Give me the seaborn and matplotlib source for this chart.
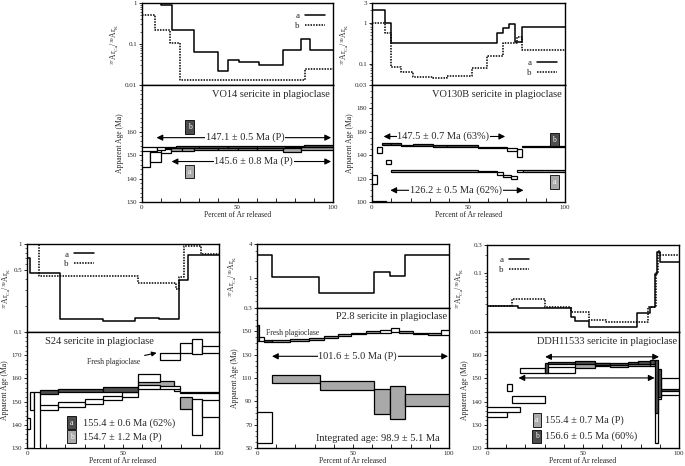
import numpy as np
import pandas as pd
import matplotlib
matplotlib.use("Agg")
import matplotlib.pyplot as plt
import seaborn as sns
from matplotlib.ticker import FixedLocator, FixedFormatter, NullFormatter, MultipleLocator, LogLocator

sns.set_theme(style="ticks")
plt.rcParams["font.family"] = ["Liberation Serif", "DejaVu Serif"]
plt.rcParams["mathtext.fontset"] = "custom"
plt.rcParams["mathtext.rm"] = "Liberation Serif"
plt.rcParams["mathtext.it"] = "Liberation Serif:italic"
plt.rcParams["mathtext.bf"] = "Liberation Serif:bold"

# ---------------- data ----------------
# VO14
vo14_ra_edges = [0, 10, 15.5, 27, 40, 45, 51, 61, 74, 83, 88, 100]
vo14_ra_vals = [0.98, 0.89, 0.22, 0.065, 0.022, 0.041, 0.036, 0.03, 0.07, 0.13, 0.07]
vo14_rb_edges = [0, 7, 14.6, 20, 85.6, 100]
vo14_rb_vals = [0.51, 0.22, 0.108, 0.0133, 0.024]
vo14_sa_edges = [0, 4, 10, 15, 21, 27, 40, 50, 60, 74, 83, 100]
vo14_sa_lo = [145.1, 147.3, 151.0, 152.0, 151.6, 152.3, 152.4, 152.4, 152.4, 151.4, 152.4]
vo14_sa_hi = [152.9, 151.5, 152.6, 153.0, 153.0, 153.1, 153.2, 153.1, 153.2, 153.2, 153.3]
vo14_sa_fill = ["w", "w", "w", "g", "g", "g", "g", "g", "g", "g", "g"]
vo14_sb_edges = [0, 8, 12, 18, 30, 45, 60, 75, 85, 100]
vo14_sb_lo = [152.0, 152.3, 152.9, 153.0, 153.1, 153.0, 153.1, 153.3, 153.4]
vo14_sb_hi = [153.4, 153.5, 153.7, 153.8, 153.9, 153.8, 153.9, 154.0, 154.2]
vo14_sb_fill = ["w", "w", "d", "d", "d", "d", "d", "d", "d"]

# VO130B
vo130_ra_edges = [0, 6.9, 9.8, 64.6, 68, 71, 74, 77.5, 100]
vo130_ra_vals = [2.03, 1.0, 0.31, 0.55, 0.74, 0.9, 0.34, 0.79]
vo130_rb_edges = [0, 6.9, 9.8, 15, 21, 31.7, 38.8, 51.7, 59.5, 68, 75, 77.6, 100]
vo130_rb_vals = [1.0, 0.57, 0.084, 0.061, 0.048, 0.044, 0.050, 0.077, 0.15, 0.31, 0.45, 0.21]
vo130_sb_edges = [0, 2.6, 5.2, 9.8, 15, 21, 31.7, 38.8, 55, 70, 75, 77.5, 100]
vo130_sb_lo = [115.4, 142.3, 148.5, 148.3, 147.7, 148.0, 147.4, 147.2, 146.3, 143.5, 138.5, 146.6]
vo130_sb_hi = [123.5, 146.7, 150.8, 150.3, 149.0, 149.6, 148.8, 148.3, 147.3, 146.5, 145.0, 147.6]
vo130_sb_fill = ["w", "w", "d", "d", "d", "d", "d", "d", "d", "w", "w", "d"]
vo130_sa_edges = [0, 7, 9.8, 55, 65, 68, 72, 75, 78, 100]
vo130_sa_lo = [90.0, 132.8, 126.0, 125.3, 123.5, 121.3, 119.5, 125.5, 126.0]
vo130_sa_hi = [100.6, 135.9, 127.0, 126.3, 126.0, 123.5, 122.5, 127.5, 127.0]
vo130_sa_fill = ["w", "w", "g", "g", "w", "w", "w", "w", "g"]

# S24
s24_ra_edges = [0, 1.5, 17.3, 39.6, 56, 69, 79.3, 84, 100]
s24_ra_vals = [0.69, 0.47, 0.14, 0.133, 0.146, 0.14, 0.39, 0.75]
s24_rb_edges = [0, 6, 57.6, 77.5, 79.3, 82, 90.5, 100]
s24_rb_vals = [1.5, 0.43, 0.36, 0.31, 0.42, 0.96, 0.76]
s24_sa_edges = [0, 1.5, 3.4, 6.9, 16.4, 39.8, 58, 69.2, 79.6, 100]
s24_sa_lo = [138.0, 146.5, 125.0, 153.3, 154.0, 154.0, 155.4, 155.4, 153.7]
s24_sa_hi = [143.0, 154.0, 154.0, 155.0, 155.4, 156.4, 157.0, 156.6, 154.3]
s24_sa_fill = ["w", "w", "w", "d", "d", "d", "w", "w", "d"]
s24_sb_edges = [3.4, 16.4, 30.3, 39.8, 49.3, 58, 76.5, 79.6, 85.7, 90.9, 100]
s24_sb_lo = [146.2, 147.7, 149.1, 150.5, 151.9, 156.1, 154.5, 147.0, 135.6, 143.4]
s24_sb_hi = [148.4, 149.8, 151.2, 152.6, 154.0, 159.0, 156.0, 151.9, 151.2, 150.5]
s24_sb_fill = ["w", "w", "w", "w", "w", "g", "w", "g", "w", "w"]
s24_fr_edges = [58, 69.2, 79.6, 85.7, 90.9, 100]
s24_fr_lo = [158.3, 168.0, 171.0, 170.5, 171.0]
s24_fr_hi = [161.8, 171.0, 175.2, 177.0, 174.0]
s24_fr_fill = ["w", "w", "w", "w", "w"]

# P2.8
p28_r_edges = [0, 7.8, 32.5, 61, 69.5, 77.3, 100]
p28_r_vals = [2.58, 1.06, 0.54, 1.31, 1.1, 2.58]
p28_su_edges = [0, 1, 3.5, 8, 17, 27, 35, 42, 49, 57, 64, 70, 74, 81, 89, 96, 100]
p28_su_lo = [142.0, 142.0, 141.0, 141.0, 142.0, 142.5, 144.5, 146.0, 147.5, 148.5, 149.0, 149.5, 148.5, 147.5, 147.0, 147.0]
p28_su_hi = [155.0, 145.0, 142.5, 142.5, 143.5, 144.0, 146.0, 147.5, 149.0, 150.0, 151.5, 152.5, 150.0, 149.0, 148.5, 151.0]
p28_su_fill = ["d", "w", "d", "g", "g", "g", "g", "g", "g", "g", "w", "w", "g", "g", "g", "w"]
p28_sl_edges = [0, 8, 33, 61, 69.5, 77.3, 100]
p28_sl_lo = [54.3, 105.7, 100.0, 79.4, 75.1, 86.3]
p28_sl_hi = [80.9, 112.9, 107.1, 100.6, 102.9, 96.3]
p28_sl_fill = ["w", "g", "g", "g", "g", "g"]

# DDH11533
ddh_ra_edges = [0, 16.4, 43.6, 45.9, 53.3, 78.2, 84.8, 87.4, 88.6, 90, 100]
ddh_ra_vals = [0.028, 0.026, 0.018, 0.0155, 0.012, 0.021, 0.027, 0.095, 0.23, 0.156]
ddh_rb_edges = [0, 13, 30.3, 44, 53, 62, 77, 84, 88, 89, 90, 100]
ddh_rb_vals = [0.028, 0.037, 0.027, 0.022, 0.016, 0.015, 0.0145, 0.027, 0.1, 0.24, 0.203]
ddh_sa_edges = [0, 10.2, 13.2, 30.2, 45.8, 56.2, 64, 73.5, 84.8, 87.4, 89.1, 90.8, 100]
ddh_sa_lo = [133.5, 144.5, 139.6, 152.3, 154.5, 155.2, 155.0, 155.3, 155.5, 122.1, 141.0, 143.0]
ddh_sa_hi = [136.0, 147.7, 142.4, 155.0, 156.6, 156.6, 156.2, 156.4, 157.0, 150.5, 150.0, 150.2]
ddh_sa_fill = ["w", "w", "w", "w", "g", "g", "g", "g", "g", "w", "w", "w"]
ddh_sb_edges = [0, 17.2, 30.2, 31.9, 45.8, 56.2, 64, 73.5, 78.7, 84.8, 87.4, 89.1, 90.8, 100]
ddh_sb_lo = [135.5, 152.3, 152.5, 156.0, 156.0, 155.8, 155.8, 156.0, 156.3, 156.3, 135.0, 142.0, 144.6]
ddh_sb_hi = [137.5, 154.4, 156.8, 157.2, 157.3, 156.8, 156.6, 157.0, 157.5, 157.8, 158.0, 154.0, 145.6]
ddh_sb_fill = ["w", "w", "d", "d", "d", "d", "d", "d", "d", "d", "d", "d", "d"]

# ---------------- style ----------------
FILL = {"w": "white", "g": "#a9a9a9", "d": "#4d4d4d"}
W, H = 685, 466
fig = plt.figure(figsize=(6.85, 4.66), dpi=100)
fig.patch.set_facecolor("white")
TICK_FS = 5
RATIO_LABEL = r"$^{37}$Ar$_{\mathrm{Ca}}$/$^{39}$Ar$_{\mathrm{K}}$"


def axes_px(x0, x1, ytop, ybot):
    ax = fig.add_axes([x0 / W, 1 - ybot / H, (x1 - x0) / W, (ybot - ytop) / H])
    ax.set_facecolor("white")
    for s in ax.spines.values():
        s.set_linewidth(1.0)
        s.set_color("black")
    return ax


def ratio_line(ax, edges, vals, label, ls):
    df = pd.DataFrame({"x": edges, "y": list(vals) + [vals[-1]]})
    sns.lineplot(data=df, x="x", y="y", ax=ax, drawstyle="steps-post", color="black",
                 lw=1.1, linestyle=ls, estimator=None, sort=False, label=label)


def spectrum(ax, edges, lo, hi, fills, lw=0.9):
    e = np.array(edges, float)
    lo = np.array(lo, float)
    hi = np.array(hi, float)
    ax.bar(e[:-1], hi - lo, bottom=lo, width=np.diff(e), align="edge",
           color=[FILL[f] for f in fills], edgecolor="black", linewidth=lw, zorder=3)


def setup_top(ax, ylim, ticks, labels, legend=None, labelpad=3):
    ax.set_yscale("log")
    ax.set_xlim(0, 100)
    ax.set_ylim(*ylim)
    ax.yaxis.set_major_locator(FixedLocator(ticks))
    ax.yaxis.set_major_formatter(FixedFormatter(labels))
    ax.yaxis.set_minor_locator(LogLocator(base=10, subs=np.arange(2, 10)))
    ax.yaxis.set_minor_formatter(NullFormatter())
    ax.set_xticks([])
    ax.tick_params(axis="y", which="major", direction="out", length=2.5, width=0.7,
                   labelsize=TICK_FS, pad=1)
    ax.tick_params(axis="y", which="minor", direction="out", length=1.5, width=0.5)
    ax.set_xlabel("")
    ax.set_ylabel(RATIO_LABEL, fontsize=5.5, labelpad=labelpad)
    if legend is not None:
        ax.legend(markerfirst=False, frameon=False, fontsize=6.5, handlelength=2.2,
                  handletextpad=0.6, labelspacing=0.15, borderpad=0.2, **legend)
    else:
        lg = ax.get_legend()
        if lg is not None:
            lg.remove()


def setup_bottom(ax, ylim, yticks, yminor):
    ax.set_xlim(0, 100)
    ax.set_ylim(*ylim)
    ax.yaxis.set_major_locator(FixedLocator(yticks))
    ax.yaxis.set_minor_locator(MultipleLocator(yminor))
    ax.xaxis.set_major_locator(FixedLocator([0, 50, 100]))
    ax.xaxis.set_minor_locator(MultipleLocator(10))
    ax.tick_params(axis="y", which="major", direction="out", length=2.5, width=0.7,
                   labelsize=TICK_FS, pad=1)
    ax.tick_params(axis="y", which="minor", direction="out", length=1.3, width=0.5)
    ax.tick_params(axis="x", which="major", direction="in", length=3, width=0.7,
                   labelsize=TICK_FS, pad=2)
    ax.tick_params(axis="x", which="minor", direction="in", length=3, width=0.7)
    ax.set_xlabel("Percent of Ar released", fontsize=5.5, labelpad=1)
    ax.set_ylabel("Apparent Age (Ma)", fontsize=5.5, labelpad=2)


def age_arrow(ax, x0, x1, y, text=None, tx=None, fs=7.5):
    ax.annotate("", xy=(x1, y), xytext=(x0, y),
                arrowprops=dict(arrowstyle="<|-|>", color="black", lw=0.8,
                                mutation_scale=9, shrinkA=0, shrinkB=0), zorder=4)
    if text is not None:
        ax.text(tx, y, text, ha="center", va="center", fontsize=fs, zorder=5,
                bbox=dict(facecolor="white", edgecolor="none", pad=0.5))


def tag(ax, x, y, letter, color, coords="data"):
    tr = ax.transData if coords == "data" else ax.transAxes
    ax.text(x, y, letter, transform=tr, ha="center", va="center", fontsize=5.5,
            color="white", zorder=6,
            bbox=dict(facecolor=color, edgecolor="black", lw=0.6, boxstyle="square,pad=0.35"))


# ---------------- Panel 1: VO14 ----------------
t1 = axes_px(142, 333, 3, 85)
ratio_line(t1, vo14_ra_edges, vo14_ra_vals, "a", "-")
ratio_line(t1, vo14_rb_edges, vo14_rb_vals, "b", (0, (1, 0.8)))
setup_top(t1, (0.01, 1), [0.01, 0.1, 1], ["0.01", "0.1", "1"],
          legend=dict(loc="upper right", bbox_to_anchor=(0.99, 0.97)))
b1 = axes_px(142, 333, 85, 202)
spectrum(b1, vo14_sa_edges, vo14_sa_lo, vo14_sa_hi, vo14_sa_fill)
spectrum(b1, vo14_sb_edges, vo14_sb_lo, vo14_sb_hi, vo14_sb_fill)
setup_bottom(b1, (130, 180), [130, 140, 150, 160], 2)
b1.text(0.985, 0.915, "VO14 sericite in plagioclase", transform=b1.transAxes,
        ha="right", va="center", fontsize=7.5)
age_arrow(b1, 7.6, 99, 157.5, "147.1 ± 0.5 Ma (P)", 54)
age_arrow(b1, 15.5, 99, 147.3, "145.6 ± 0.8 Ma (P)", 58.5)
tag(b1, 25, 162, "b", FILL["d"])
tag(b1, 25, 143, "a", FILL["g"])

# ---------------- Panel 2: VO130B ----------------
t2 = axes_px(372, 565, 3, 85)
ratio_line(t2, vo130_ra_edges, vo130_ra_vals, "a", "-")
ratio_line(t2, vo130_rb_edges, vo130_rb_vals, "b", (0, (1, 0.8)))
setup_top(t2, (0.03, 3), [0.03, 0.1, 1, 3], ["0.03", "0.1", "1", "3"],
          legend=dict(loc="lower right", bbox_to_anchor=(0.99, 0.02)))
b2 = axes_px(372, 565, 85, 202)
spectrum(b2, vo130_sb_edges, vo130_sb_lo, vo130_sb_hi, vo130_sb_fill)
spectrum(b2, vo130_sa_edges, vo130_sa_lo, vo130_sa_hi, vo130_sa_fill)
setup_bottom(b2, (100, 200), [100, 120, 140, 160, 180], 5)
b2.text(0.985, 0.915, "VO130B sericite in plagioclase", transform=b2.transAxes,
        ha="right", va="center", fontsize=7.5)
age_arrow(b2, 6, 69, 156, "147.5 ± 0.7 Ma (63%)", 37)
age_arrow(b2, 9.5, 78.5, 110, "126.2 ± 0.5 Ma (62%)", 43.5)
tag(b2, 94.5, 153.3, "b", FILL["d"])
tag(b2, 94.5, 117, "a", FILL["g"])

# ---------------- Panel 3: S24 ----------------
t3 = axes_px(27, 219, 244, 332)
ratio_line(t3, s24_ra_edges, s24_ra_vals, "a", "-")
ratio_line(t3, s24_rb_edges, s24_rb_vals, "b", (0, (1, 0.8)))
setup_top(t3, (0.1, 1), [0.1, 0.5, 1], ["0.1", "0.5", "1"],
          legend=dict(loc="upper left", bbox_to_anchor=(0.16, 1.0)), labelpad=0.5)
b3 = axes_px(27, 219, 332, 448)
spectrum(b3, s24_sb_edges, s24_sb_lo, s24_sb_hi, s24_sb_fill)
spectrum(b3, s24_sa_edges, s24_sa_lo, s24_sa_hi, s24_sa_fill)
spectrum(b3, s24_fr_edges, s24_fr_lo, s24_fr_hi, s24_fr_fill)
setup_bottom(b3, (130, 180), [130, 140, 150, 160, 170], 2)
b3.text(0.095, 0.92, "S24 sericite in plagioclase", transform=b3.transAxes,
        ha="left", va="center", fontsize=7.5)
b3.annotate("Fresh plagioclase", xy=(0.675, 0.82), xytext=(0.45, 0.74),
            xycoords="axes fraction", textcoords="axes fraction", ha="center", va="center",
            fontsize=5.5, arrowprops=dict(arrowstyle="-|>", color="black", lw=0.8,
                                           mutation_scale=7, shrinkA=1, shrinkB=0))
tag(b3, 0.233, 0.218, "a", FILL["d"], coords="axes")
tag(b3, 0.233, 0.097, "b", FILL["g"], coords="axes")
b3.text(0.29, 0.218, "155.4 ± 0.6 Ma (62%)", transform=b3.transAxes, ha="left",
        va="center", fontsize=7.5)
b3.text(0.29, 0.097, "154.7 ± 1.2 Ma (P)", transform=b3.transAxes, ha="left",
        va="center", fontsize=7.5)

# ---------------- Panel 4: P2.8 ----------------
t4 = axes_px(257, 449, 244, 308)
ratio_line(t4, p28_r_edges, p28_r_vals, None, "-")
setup_top(t4, (0.3, 4), [0.3, 1, 4], ["0.3", "1", "4"])
b4 = axes_px(257, 449, 308, 448)
spectrum(b4, p28_su_edges, p28_su_lo, p28_su_hi, p28_su_fill)
spectrum(b4, p28_sl_edges, p28_sl_lo, p28_sl_hi, p28_sl_fill)
setup_bottom(b4, (50, 170), [50, 70, 90, 110, 130, 150], 5)
b4.text(0.99, 0.94, "P2.8 sericite in plagioclase", transform=b4.transAxes,
        ha="right", va="center", fontsize=7.5)
b4.text(0.045, 0.82, "Fresh plagioclase", transform=b4.transAxes, ha="left",
        va="center", fontsize=5.5)
age_arrow(b4, 7.8, 99.5, 128.6, "101.6 ± 5.0 Ma (P)", 52.5)
b4.text(0.95, 0.071, "Integrated age: 98.9 ± 5.1 Ma", transform=b4.transAxes,
        ha="right", va="center", fontsize=7.5)

# ---------------- Panel 5: DDH11533 ----------------
t5 = axes_px(487, 679, 245, 332)
ratio_line(t5, ddh_ra_edges, ddh_ra_vals, "a", "-")
ratio_line(t5, ddh_rb_edges, ddh_rb_vals, "b", (0, (1, 0.8)))
setup_top(t5, (0.01, 0.3), [0.01, 0.1, 0.3], ["0.01", "0.1", "0.3"],
          legend=dict(loc="upper left", bbox_to_anchor=(0.03, 0.95)))
b5 = axes_px(487, 679, 332, 448)
spectrum(b5, ddh_sa_edges, ddh_sa_lo, ddh_sa_hi, ddh_sa_fill)
spectrum(b5, ddh_sb_edges, ddh_sb_lo, ddh_sb_hi, ddh_sb_fill)
setup_bottom(b5, (120, 170), [120, 130, 140, 150, 160], 2)
b5.text(0.99, 0.92, "DDH11533 sericite in plagioclase", transform=b5.transAxes,
        ha="right", va="center", fontsize=7.5)
age_arrow(b5, 30.3, 89.6, 159.3)
age_arrow(b5, 16.4, 87.3, 150.2)
tag(b5, 0.26, 0.24, "a", FILL["g"], coords="axes")
tag(b5, 0.26, 0.10, "b", FILL["d"], coords="axes")
b5.text(0.30, 0.24, "155.4 ± 0.7 Ma (P)", transform=b5.transAxes, ha="left",
        va="center", fontsize=7.5)
b5.text(0.30, 0.10, "156.6 ± 0.5 Ma (60%)", transform=b5.transAxes, ha="left",
        va="center", fontsize=7.5)

fig.savefig("out.png", dpi=100, facecolor="white")
